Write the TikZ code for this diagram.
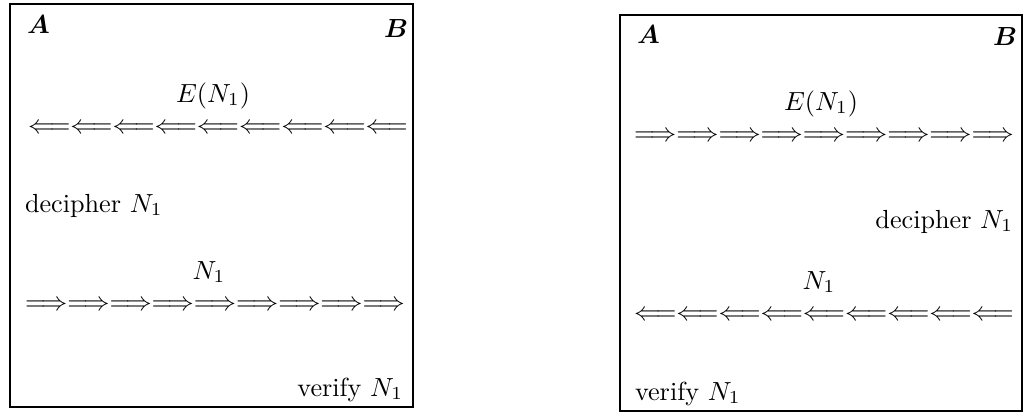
\documentclass[tikz,border=0pt]{standalone}
\usepackage{amsmath}
\usepackage{bm}
\newcommand{\lrow}{$\Longleftarrow\Longleftarrow\Longleftarrow\Longleftarrow\Longleftarrow\Longleftarrow\Longleftarrow\Longleftarrow\Longleftarrow$}
\newcommand{\rrow}{$\Longrightarrow\Longrightarrow\Longrightarrow\Longrightarrow\Longrightarrow\Longrightarrow\Longrightarrow\Longrightarrow\Longrightarrow$}
\begin{document}
\begin{tikzpicture}[x=0.382pt,y=-0.382pt,
  lbl/.style={inner sep=0pt, outer sep=0pt},
  arrowrow/.style={inner sep=0pt, outer sep=0pt, text height=5pt, text depth=0pt, anchor=center},
  frame/.style={draw=black, line width=1pt}]
\useasboundingbox (0,0) rectangle (1027,416);
% left panel
\draw[frame] (10,4) rectangle (413,407);
\node[lbl, anchor=base west] (lA) at (27,33) {$\bm{A}$};
\node[lbl, anchor=base east] (lB) at (408,37) {$\bm{B}$};
\node[lbl, anchor=base] (lE) at (213,102) {$E(N_1)$};
\node[arrowrow] (lrow1) at (218,127) {\lrow};
\node[lbl, anchor=base west] (ldec) at (25,212) {decipher $N_1$};
\node[lbl, anchor=base] (lN) at (209,279) {$N_1$};
\node[arrowrow] (lrow2) at (215,304) {\rrow};
\node[lbl, anchor=base east] (lver) at (403,396) {verify $N_1$};
% right panel
\draw[frame] (620,15) rectangle (1022,411);
\node[lbl, anchor=base west] (rA) at (637,43) {$\bm{A}$};
\node[lbl, anchor=base east] (rB) at (1017,45) {$\bm{B}$};
\node[lbl, anchor=base] (rE) at (821,110) {$E(N_1)$};
\node[arrowrow] (rrow1) at (824,135) {\rrow};
\node[lbl, anchor=base east] (rdec) at (1013,228) {decipher $N_1$};
\node[lbl, anchor=base] (rN) at (819,289) {$N_1$};
\node[arrowrow] (rrow2) at (824,314) {\lrow};
\node[lbl, anchor=base west] (rver) at (635,400) {verify $N_1$};
\end{tikzpicture}
\end{document}
